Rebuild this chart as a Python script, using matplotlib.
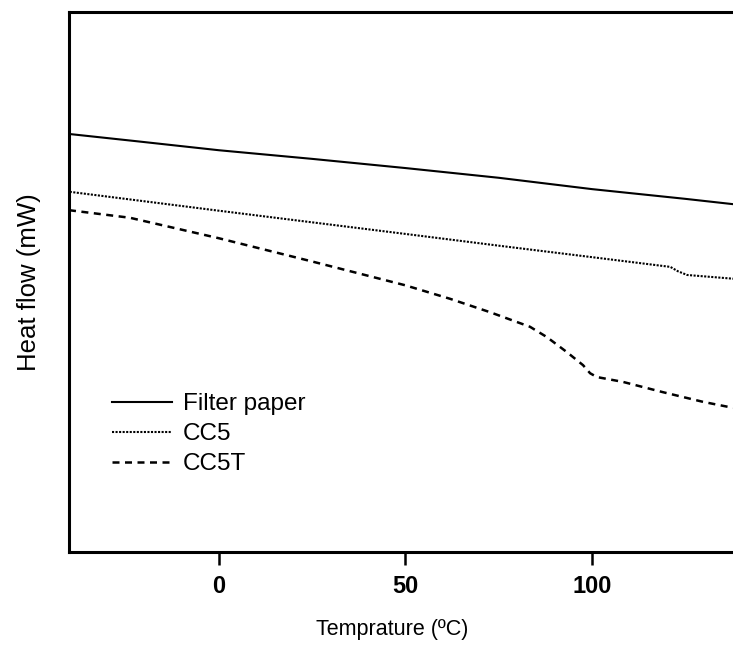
import matplotlib
matplotlib.use("Agg")
import matplotlib.pyplot as plt

plt.rcParams['font.family'] = ['Liberation Sans', 'DejaVu Sans']

# Temperature (°C) and heat flow (arbitrary offset units) for each sample
temp_filter = [-40, -22.5, 0, 25, 50, 75, 100, 125, 138]
flow_filter = [7.74, 7.61, 7.44, 7.28, 7.11, 6.93, 6.72, 6.54, 6.44]

temp_cc5 = [-40, 0, 24.4, 50, 75.3, 100, 121, 123, 125.5, 138]
flow_cc5 = [6.67, 6.32, 6.11, 5.89, 5.67, 5.46, 5.28, 5.20, 5.13, 5.06]

temp_cc5t = [-40.2, -23.9, 0, 24.4, 49.9, 61.9, 72.7, 83.4, 87.9, 93.3,
             97.6, 99.5, 101.3, 108.3, 119, 129.8, 137.8]
flow_cc5t = [6.33, 6.19, 5.81, 5.39, 4.94, 4.69, 4.44, 4.17, 3.98, 3.70,
             3.46, 3.31, 3.24, 3.15, 2.96, 2.78, 2.67]

x_ticks = [0, 50, 100]
labels = ["Filter paper", "CC5", "CC5T"]

fig = plt.figure(figsize=(7.33, 6.45), dpi=100)
ax = fig.add_axes([69 / 733, 93 / 645, 664 / 733, 540 / 645])

ax.plot(temp_filter, flow_filter, color='black', lw=1.5, linestyle='-',
        label=labels[0])
ax.plot(temp_cc5, flow_cc5, color='black', lw=1.5, linestyle=(0, (1, 0.7)),
        label=labels[1])
ax.plot(temp_cc5t, flow_cc5t, color='black', lw=1.8, linestyle=(0, (2.8, 2.2)),
        label=labels[2])

ax.set_xlim(-40.2, 137.8)
ax.set_ylim(0, 10)
ax.set_xticks(x_ticks)
ax.set_yticks([])

for side in ['left', 'top', 'bottom']:
    ax.spines[side].set_linewidth(2.2)
ax.spines['right'].set_visible(False)

ax.tick_params(axis='x', direction='out', length=9.5, width=1.8, pad=7,
               labelsize=17)
for t in ax.get_xticklabels():
    t.set_fontweight('bold')

ax.set_xlabel("Temprature (ºC)", fontsize=15.5, labelpad=15)
ax.xaxis.label.set_x(0.4865)
ax.set_ylabel("Heat flow (mW)", fontsize=18.5, labelpad=20)

ax.legend(loc='center left', bbox_to_anchor=(0.0648, 0.218), frameon=False,
          fontsize=17.5, handlelength=2.45, handletextpad=0.45, borderpad=0,
          borderaxespad=0, labelspacing=0.32)

fig.savefig("out.png", dpi=100)
